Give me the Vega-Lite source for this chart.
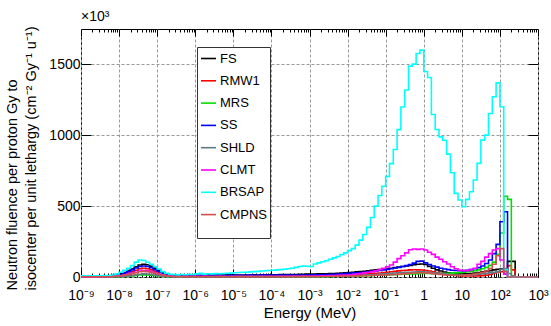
{
  "$schema": "https://vega.github.io/schema/vega-lite/v6.json",
  "width": 457,
  "height": 248,
  "autosize": {"type": "none"},
  "padding": {"left": 81, "top": 29, "right": 13, "bottom": 49},
  "background": "white",
  "config": {
    "font": "Liberation Sans",
    "view": {"stroke": "#000", "strokeWidth": 1}
  },
  "title": {
    "text": "×10³",
    "anchor": "start",
    "frame": "group",
    "fontSize": 14,
    "fontWeight": "normal",
    "font": "Liberation Sans",
    "color": "#000",
    "offset": 2
  },
  "data": {
    "values": [
      {"e":1e-9,"FS":2,"RMW1":1,"MRS":0,"SS":1,"SHLD":1,"CLMT":1,"BRSAP":8,"CMPNS":1},
      {"e":1.259e-9,"FS":2,"RMW1":1,"MRS":0,"SS":1,"SHLD":1,"CLMT":1,"BRSAP":8,"CMPNS":1},
      {"e":1.585e-9,"FS":3,"RMW1":2,"MRS":1,"SS":2,"SHLD":1,"CLMT":1,"BRSAP":9,"CMPNS":1},
      {"e":1.995e-9,"FS":3,"RMW1":2,"MRS":1,"SS":2,"SHLD":1,"CLMT":2,"BRSAP":8,"CMPNS":1},
      {"e":2.512e-9,"FS":4,"RMW1":2,"MRS":1,"SS":3,"SHLD":1,"CLMT":2,"BRSAP":9,"CMPNS":1},
      {"e":3.162e-9,"FS":4,"RMW1":3,"MRS":1,"SS":3,"SHLD":1,"CLMT":2,"BRSAP":9,"CMPNS":1},
      {"e":3.981e-9,"FS":5,"RMW1":3,"MRS":1,"SS":4,"SHLD":1,"CLMT":2,"BRSAP":10,"CMPNS":1},
      {"e":5.012e-9,"FS":7,"RMW1":4,"MRS":1,"SS":5,"SHLD":1,"CLMT":3,"BRSAP":10,"CMPNS":2},
      {"e":6.31e-9,"FS":10,"RMW1":6,"MRS":2,"SS":8,"SHLD":2,"CLMT":5,"BRSAP":14,"CMPNS":4},
      {"e":7.943e-9,"FS":15,"RMW1":9,"MRS":2,"SS":12,"SHLD":3,"CLMT":7,"BRSAP":22,"CMPNS":6},
      {"e":1e-8,"FS":22,"RMW1":14,"MRS":3,"SS":18,"SHLD":4,"CLMT":10,"BRSAP":33,"CMPNS":9},
      {"e":1.259e-8,"FS":32,"RMW1":20,"MRS":4,"SS":27,"SHLD":6,"CLMT":14,"BRSAP":48,"CMPNS":13},
      {"e":1.585e-8,"FS":45,"RMW1":28,"MRS":6,"SS":38,"SHLD":8,"CLMT":20,"BRSAP":62,"CMPNS":18},
      {"e":1.995e-8,"FS":58,"RMW1":38,"MRS":8,"SS":50,"SHLD":11,"CLMT":27,"BRSAP":80,"CMPNS":24},
      {"e":2.512e-8,"FS":72,"RMW1":48,"MRS":11,"SS":63,"SHLD":15,"CLMT":34,"BRSAP":105,"CMPNS":30},
      {"e":3.162e-8,"FS":85,"RMW1":58,"MRS":14,"SS":74,"SHLD":19,"CLMT":42,"BRSAP":120,"CMPNS":37},
      {"e":3.981e-8,"FS":90,"RMW1":62,"MRS":15,"SS":78,"SHLD":22,"CLMT":45,"BRSAP":116,"CMPNS":40},
      {"e":5.012e-8,"FS":86,"RMW1":58,"MRS":14,"SS":74,"SHLD":21,"CLMT":43,"BRSAP":104,"CMPNS":38},
      {"e":6.31e-8,"FS":76,"RMW1":50,"MRS":12,"SS":65,"SHLD":18,"CLMT":38,"BRSAP":90,"CMPNS":33},
      {"e":7.943e-8,"FS":62,"RMW1":40,"MRS":10,"SS":52,"SHLD":14,"CLMT":30,"BRSAP":74,"CMPNS":26},
      {"e":1e-7,"FS":46,"RMW1":30,"MRS":7,"SS":40,"SHLD":10,"CLMT":22,"BRSAP":56,"CMPNS":19},
      {"e":1.259e-7,"FS":30,"RMW1":21,"MRS":5,"SS":27,"SHLD":7,"CLMT":15,"BRSAP":38,"CMPNS":13},
      {"e":1.585e-7,"FS":20,"RMW1":14,"MRS":3,"SS":18,"SHLD":4,"CLMT":10,"BRSAP":26,"CMPNS":8},
      {"e":1.995e-7,"FS":14,"RMW1":9,"MRS":2,"SS":12,"SHLD":3,"CLMT":7,"BRSAP":19,"CMPNS":5},
      {"e":2.512e-7,"FS":12,"RMW1":6,"MRS":1,"SS":10,"SHLD":2,"CLMT":4,"BRSAP":17,"CMPNS":3},
      {"e":3.162e-7,"FS":13,"RMW1":5,"MRS":2,"SS":12,"SHLD":3,"CLMT":4,"BRSAP":15,"CMPNS":3},
      {"e":3.981e-7,"FS":12,"RMW1":6,"MRS":1,"SS":11,"SHLD":2,"CLMT":5,"BRSAP":18,"CMPNS":3},
      {"e":5.012e-7,"FS":11,"RMW1":7,"MRS":2,"SS":10,"SHLD":3,"CLMT":4,"BRSAP":16,"CMPNS":3},
      {"e":6.31e-7,"FS":12,"RMW1":6,"MRS":2,"SS":11,"SHLD":3,"CLMT":4,"BRSAP":19,"CMPNS":3},
      {"e":7.943e-7,"FS":13,"RMW1":5,"MRS":1,"SS":12,"SHLD":2,"CLMT":5,"BRSAP":18,"CMPNS":3},
      {"e":1e-6,"FS":12,"RMW1":6,"MRS":2,"SS":11,"SHLD":3,"CLMT":4,"BRSAP":22,"CMPNS":3},
      {"e":1.259e-6,"FS":11,"RMW1":6,"MRS":1,"SS":10,"SHLD":2,"CLMT":4,"BRSAP":26,"CMPNS":3},
      {"e":1.585e-6,"FS":12,"RMW1":5,"MRS":2,"SS":12,"SHLD":3,"CLMT":5,"BRSAP":20,"CMPNS":3},
      {"e":1.995e-6,"FS":13,"RMW1":6,"MRS":2,"SS":11,"SHLD":3,"CLMT":4,"BRSAP":23,"CMPNS":3},
      {"e":2.512e-6,"FS":12,"RMW1":6,"MRS":1,"SS":11,"SHLD":2,"CLMT":4,"BRSAP":22,"CMPNS":3},
      {"e":3.162e-6,"FS":12,"RMW1":7,"MRS":2,"SS":12,"SHLD":3,"CLMT":4,"BRSAP":24,"CMPNS":3},
      {"e":3.981e-6,"FS":13,"RMW1":6,"MRS":2,"SS":11,"SHLD":3,"CLMT":5,"BRSAP":23,"CMPNS":3},
      {"e":5.012e-6,"FS":12,"RMW1":6,"MRS":1,"SS":12,"SHLD":3,"CLMT":4,"BRSAP":25,"CMPNS":3},
      {"e":6.31e-6,"FS":13,"RMW1":5,"MRS":2,"SS":12,"SHLD":2,"CLMT":4,"BRSAP":26,"CMPNS":3},
      {"e":7.943e-6,"FS":13,"RMW1":6,"MRS":2,"SS":11,"SHLD":3,"CLMT":4,"BRSAP":27,"CMPNS":3},
      {"e":1e-5,"FS":13,"RMW1":6,"MRS":2,"SS":12,"SHLD":3,"CLMT":4,"BRSAP":30,"CMPNS":3},
      {"e":1.259e-5,"FS":14,"RMW1":6,"MRS":1,"SS":12,"SHLD":3,"CLMT":5,"BRSAP":32,"CMPNS":3},
      {"e":1.585e-5,"FS":13,"RMW1":7,"MRS":2,"SS":11,"SHLD":3,"CLMT":4,"BRSAP":33,"CMPNS":3},
      {"e":1.995e-5,"FS":14,"RMW1":6,"MRS":2,"SS":12,"SHLD":3,"CLMT":4,"BRSAP":34,"CMPNS":3},
      {"e":2.512e-5,"FS":14,"RMW1":6,"MRS":2,"SS":13,"SHLD":3,"CLMT":5,"BRSAP":36,"CMPNS":3},
      {"e":3.162e-5,"FS":15,"RMW1":6,"MRS":1,"SS":12,"SHLD":3,"CLMT":4,"BRSAP":38,"CMPNS":3},
      {"e":3.981e-5,"FS":14,"RMW1":7,"MRS":2,"SS":12,"SHLD":3,"CLMT":4,"BRSAP":40,"CMPNS":3},
      {"e":5.012e-5,"FS":15,"RMW1":6,"MRS":2,"SS":13,"SHLD":3,"CLMT":5,"BRSAP":42,"CMPNS":3},
      {"e":6.31e-5,"FS":15,"RMW1":7,"MRS":2,"SS":13,"SHLD":3,"CLMT":4,"BRSAP":44,"CMPNS":3},
      {"e":7.943e-5,"FS":16,"RMW1":7,"MRS":2,"SS":12,"SHLD":3,"CLMT":5,"BRSAP":46,"CMPNS":3},
      {"e":1e-4,"FS":16,"RMW1":7,"MRS":2,"SS":13,"SHLD":3,"CLMT":4,"BRSAP":48,"CMPNS":3},
      {"e":1.259e-4,"FS":16,"RMW1":7,"MRS":2,"SS":13,"SHLD":3,"CLMT":5,"BRSAP":50,"CMPNS":3},
      {"e":1.585e-4,"FS":17,"RMW1":7,"MRS":2,"SS":13,"SHLD":3,"CLMT":5,"BRSAP":52,"CMPNS":3},
      {"e":1.995e-4,"FS":17,"RMW1":8,"MRS":2,"SS":14,"SHLD":3,"CLMT":4,"BRSAP":55,"CMPNS":3},
      {"e":2.512e-4,"FS":17,"RMW1":7,"MRS":2,"SS":13,"SHLD":3,"CLMT":5,"BRSAP":58,"CMPNS":3},
      {"e":3.162e-4,"FS":18,"RMW1":8,"MRS":2,"SS":14,"SHLD":3,"CLMT":5,"BRSAP":62,"CMPNS":3},
      {"e":3.981e-4,"FS":18,"RMW1":8,"MRS":2,"SS":14,"SHLD":3,"CLMT":5,"BRSAP":68,"CMPNS":3},
      {"e":5.012e-4,"FS":19,"RMW1":8,"MRS":2,"SS":14,"SHLD":3,"CLMT":5,"BRSAP":74,"CMPNS":3},
      {"e":6.31e-4,"FS":19,"RMW1":8,"MRS":2,"SS":14,"SHLD":3,"CLMT":5,"BRSAP":78,"CMPNS":3},
      {"e":7.943e-4,"FS":20,"RMW1":8,"MRS":2,"SS":14,"SHLD":3,"CLMT":5,"BRSAP":76,"CMPNS":3},
      {"e":1e-3,"FS":20,"RMW1":8,"MRS":2,"SS":14,"SHLD":3,"CLMT":5,"BRSAP":74,"CMPNS":3},
      {"e":1.259e-3,"FS":21,"RMW1":9,"MRS":2,"SS":15,"SHLD":3,"CLMT":6,"BRSAP":92,"CMPNS":3},
      {"e":1.585e-3,"FS":22,"RMW1":9,"MRS":3,"SS":15,"SHLD":4,"CLMT":7,"BRSAP":100,"CMPNS":4},
      {"e":1.995e-3,"FS":22,"RMW1":10,"MRS":3,"SS":16,"SHLD":4,"CLMT":8,"BRSAP":108,"CMPNS":4},
      {"e":2.512e-3,"FS":23,"RMW1":11,"MRS":3,"SS":17,"SHLD":5,"CLMT":9,"BRSAP":115,"CMPNS":4},
      {"e":3.162e-3,"FS":24,"RMW1":12,"MRS":4,"SS":18,"SHLD":5,"CLMT":10,"BRSAP":125,"CMPNS":5},
      {"e":3.981e-3,"FS":25,"RMW1":13,"MRS":4,"SS":19,"SHLD":6,"CLMT":11,"BRSAP":135,"CMPNS":5},
      {"e":5.012e-3,"FS":26,"RMW1":14,"MRS":5,"SS":20,"SHLD":6,"CLMT":12,"BRSAP":145,"CMPNS":6},
      {"e":6.31e-3,"FS":28,"RMW1":15,"MRS":5,"SS":22,"SHLD":7,"CLMT":13,"BRSAP":158,"CMPNS":6},
      {"e":7.943e-3,"FS":30,"RMW1":16,"MRS":6,"SS":24,"SHLD":8,"CLMT":14,"BRSAP":170,"CMPNS":7},
      {"e":1e-2,"FS":32,"RMW1":17,"MRS":6,"SS":26,"SHLD":9,"CLMT":15,"BRSAP":186,"CMPNS":7},
      {"e":1.259e-2,"FS":34,"RMW1":18,"MRS":7,"SS":28,"SHLD":10,"CLMT":18,"BRSAP":200,"CMPNS":8},
      {"e":1.585e-2,"FS":36,"RMW1":19,"MRS":7,"SS":30,"SHLD":11,"CLMT":21,"BRSAP":225,"CMPNS":8},
      {"e":1.995e-2,"FS":38,"RMW1":20,"MRS":8,"SS":32,"SHLD":12,"CLMT":25,"BRSAP":260,"CMPNS":9},
      {"e":2.512e-2,"FS":41,"RMW1":21,"MRS":9,"SS":34,"SHLD":13,"CLMT":29,"BRSAP":300,"CMPNS":10},
      {"e":3.162e-2,"FS":44,"RMW1":22,"MRS":10,"SS":37,"SHLD":15,"CLMT":33,"BRSAP":350,"CMPNS":11},
      {"e":3.981e-2,"FS":47,"RMW1":24,"MRS":11,"SS":40,"SHLD":16,"CLMT":38,"BRSAP":420,"CMPNS":11},
      {"e":5.012e-2,"FS":50,"RMW1":26,"MRS":12,"SS":43,"SHLD":18,"CLMT":45,"BRSAP":500,"CMPNS":12},
      {"e":6.31e-2,"FS":53,"RMW1":28,"MRS":13,"SS":46,"SHLD":20,"CLMT":52,"BRSAP":575,"CMPNS":13},
      {"e":7.943e-2,"FS":56,"RMW1":31,"MRS":14,"SS":50,"SHLD":22,"CLMT":61,"BRSAP":640,"CMPNS":14},
      {"e":0.1,"FS":59,"RMW1":34,"MRS":15,"SS":54,"SHLD":24,"CLMT":72,"BRSAP":710,"CMPNS":15},
      {"e":0.1259,"FS":62,"RMW1":37,"MRS":16,"SS":58,"SHLD":26,"CLMT":85,"BRSAP":800,"CMPNS":16},
      {"e":0.1585,"FS":66,"RMW1":40,"MRS":17,"SS":63,"SHLD":28,"CLMT":105,"BRSAP":900,"CMPNS":18},
      {"e":0.1995,"FS":70,"RMW1":43,"MRS":18,"SS":68,"SHLD":30,"CLMT":130,"BRSAP":1040,"CMPNS":20},
      {"e":0.2512,"FS":74,"RMW1":46,"MRS":19,"SS":74,"SHLD":32,"CLMT":150,"BRSAP":1200,"CMPNS":22},
      {"e":0.3162,"FS":78,"RMW1":48,"MRS":20,"SS":80,"SHLD":33,"CLMT":170,"BRSAP":1320,"CMPNS":24},
      {"e":0.3981,"FS":82,"RMW1":50,"MRS":21,"SS":88,"SHLD":34,"CLMT":192,"BRSAP":1488,"CMPNS":26},
      {"e":0.5012,"FS":86,"RMW1":51,"MRS":22,"SS":98,"SHLD":35,"CLMT":198,"BRSAP":1502,"CMPNS":28},
      {"e":0.631,"FS":90,"RMW1":50,"MRS":24,"SS":110,"SHLD":36,"CLMT":195,"BRSAP":1577,"CMPNS":30},
      {"e":0.7943,"FS":92,"RMW1":49,"MRS":25,"SS":112,"SHLD":36,"CLMT":198,"BRSAP":1601,"CMPNS":30},
      {"e":1,"FS":88,"RMW1":46,"MRS":25,"SS":100,"SHLD":35,"CLMT":190,"BRSAP":1450,"CMPNS":29},
      {"e":1.259,"FS":75,"RMW1":42,"MRS":25,"SS":88,"SHLD":33,"CLMT":175,"BRSAP":1408,"CMPNS":27},
      {"e":1.585,"FS":62,"RMW1":37,"MRS":24,"SS":78,"SHLD":30,"CLMT":160,"BRSAP":1147,"CMPNS":24},
      {"e":1.995,"FS":50,"RMW1":31,"MRS":24,"SS":70,"SHLD":27,"CLMT":140,"BRSAP":1041,"CMPNS":21},
      {"e":2.512,"FS":42,"RMW1":26,"MRS":24,"SS":62,"SHLD":24,"CLMT":125,"BRSAP":989,"CMPNS":18},
      {"e":3.162,"FS":35,"RMW1":21,"MRS":25,"SS":56,"SHLD":21,"CLMT":108,"BRSAP":965,"CMPNS":15},
      {"e":3.981,"FS":30,"RMW1":17,"MRS":26,"SS":52,"SHLD":18,"CLMT":92,"BRSAP":867,"CMPNS":13},
      {"e":5.012,"FS":26,"RMW1":14,"MRS":27,"SS":48,"SHLD":16,"CLMT":72,"BRSAP":736,"CMPNS":12},
      {"e":6.31,"FS":24,"RMW1":12,"MRS":29,"SS":46,"SHLD":14,"CLMT":58,"BRSAP":590,"CMPNS":11},
      {"e":7.943,"FS":22,"RMW1":10,"MRS":31,"SS":45,"SHLD":13,"CLMT":48,"BRSAP":543,"CMPNS":11},
      {"e":10,"FS":22,"RMW1":8,"MRS":34,"SS":45,"SHLD":13,"CLMT":45,"BRSAP":496,"CMPNS":12},
      {"e":12.59,"FS":23,"RMW1":7,"MRS":37,"SS":47,"SHLD":14,"CLMT":45,"BRSAP":548,"CMPNS":14},
      {"e":15.85,"FS":25,"RMW1":7,"MRS":40,"SS":52,"SHLD":15,"CLMT":52,"BRSAP":602,"CMPNS":17},
      {"e":19.95,"FS":28,"RMW1":7,"MRS":44,"SS":58,"SHLD":17,"CLMT":62,"BRSAP":684,"CMPNS":21},
      {"e":25.12,"FS":32,"RMW1":8,"MRS":50,"SS":66,"SHLD":19,"CLMT":90,"BRSAP":802,"CMPNS":26},
      {"e":31.62,"FS":36,"RMW1":10,"MRS":58,"SS":78,"SHLD":22,"CLMT":110,"BRSAP":966,"CMPNS":33},
      {"e":39.81,"FS":40,"RMW1":12,"MRS":68,"SS":95,"SHLD":25,"CLMT":140,"BRSAP":1001,"CMPNS":42},
      {"e":50.12,"FS":45,"RMW1":18,"MRS":82,"SS":120,"SHLD":29,"CLMT":165,"BRSAP":1154,"CMPNS":60},
      {"e":63.1,"FS":50,"RMW1":28,"MRS":105,"SS":165,"SHLD":34,"CLMT":190,"BRSAP":1272,"CMPNS":90},
      {"e":79.43,"FS":55,"RMW1":35,"MRS":160,"SS":230,"SHLD":40,"CLMT":200,"BRSAP":1370,"CMPNS":150},
      {"e":100,"FS":58,"RMW1":38,"MRS":310,"SS":390,"SHLD":55,"CLMT":120,"BRSAP":1201,"CMPNS":200},
      {"e":125.9,"FS":40,"RMW1":20,"MRS":570,"SS":460,"SHLD":60,"CLMT":20,"BRSAP":50,"CMPNS":40},
      {"e":158.5,"FS":110,"RMW1":80,"MRS":548,"SS":0,"SHLD":25,"CLMT":0,"BRSAP":0,"CMPNS":0},
      {"e":199.5,"FS":110,"RMW1":50,"MRS":3,"SS":0,"SHLD":8,"CLMT":0,"BRSAP":0,"CMPNS":0},
      {"e":251.2,"FS":0,"RMW1":0,"MRS":0,"SS":0,"SHLD":0,"CLMT":0,"BRSAP":0,"CMPNS":0},
      {"e":1000,"FS":0,"RMW1":0,"MRS":0,"SS":0,"SHLD":0,"CLMT":0,"BRSAP":0,"CMPNS":0}
    ]
  },
  "transform": [
    {"fold": ["FS", "RMW1", "MRS", "SS", "SHLD", "CLMT", "BRSAP", "CMPNS"], "as": ["series", "flux"]}
  ],
  "layer": [
    {
      "mark": {"type": "line", "interpolate": "step-after", "strokeWidth": 1.6},
      "encoding": {
        "x": {
          "field": "e",
          "type": "quantitative",
          "scale": {"type": "log", "domain": [1e-9, 1000], "nice": false},
          "axis": {
            "orient": "bottom",
            "title": "Energy (MeV)",
            "titleFont": "Liberation Sans",
            "titleFontSize": 15,
            "titleFontWeight": "normal",
            "titleColor": "#000",
            "titleBaseline": "top",
            "titleY": 28,
            "tickCount": 20,
            "labelOverlap": false,
            "labelFlush": false,
            "labelFont": "Liberation Sans",
            "labelFontSize": 14,
            "labelColor": "#000",
            "labelBaseline": "top",
            "labelPadding": 19,
            "labelExpr": "abs(log(datum.value)/LN10 - round(log(datum.value)/LN10)) > 0.001 ? '' : round(log(datum.value)/LN10) == 0 ? '1' : round(log(datum.value)/LN10) == 1 ? '10' : '10' + (datum.value < 1 ? '⁻' : '') + substring('⁰¹²³⁴⁵⁶⁷⁸⁹', abs(round(log(datum.value)/LN10)), abs(round(log(datum.value)/LN10)) + 1)",
            "domain": false,
            "ticks": true,
            "tickColor": "#000",
            "tickSize": {"condition": {"test": "abs(log(datum.value)/LN10 - round(log(datum.value)/LN10)) < 0.001", "value": -8}, "value": -4},
            "grid": true,
            "gridColor": "#999",
            "gridDash": [3, 2],
            "gridOpacity": {"condition": {"test": "abs(log(datum.value)/LN10 - round(log(datum.value)/LN10)) < 0.001", "value": 1}, "value": 0}
          }
        },
        "y": {
          "field": "flux",
          "type": "quantitative",
          "scale": {"domain": [0, 1750], "nice": false},
          "axis": {
            "orient": "left",
            "values": [0, 500, 1000, 1500],
            "format": "d",
            "title": ["Neutron fluence per proton Gy to", "isocenter per unit lethargy (cm⁻² Gy⁻¹ u⁻¹)"],
            "titleFont": "Liberation Sans",
            "titleFontSize": 14.5,
            "titleFontWeight": "normal",
            "titleColor": "#000",
            "titleAngle": -90,
            "titleAlign": "left",
            "titleBaseline": "top",
            "titleLineHeight": 19,
            "titleX": -76,
            "titleY": 261,
            "labelFont": "Liberation Sans",
            "labelFontSize": 14,
            "labelColor": "#000",
            "labelPadding": 11,
            "domain": false,
            "tickColor": "#000",
            "tickSize": -10,
            "grid": true,
            "gridColor": "#999",
            "gridDash": [3, 2]
          }
        },
        "color": {
          "field": "series",
          "type": "nominal",
          "scale": {
            "domain": ["FS", "RMW1", "MRS", "SS", "SHLD", "CLMT", "BRSAP", "CMPNS"],
            "range": ["#000000", "#ff0000", "#00e000", "#0000ff", "#5f7a87", "#ff00ff", "#00ffff", "#d05050"]
          },
          "legend": {
            "orient": "none",
            "legendX": 116,
            "legendY": 18,
            "title": " ",
            "titleOrient": "bottom",
            "titleFontSize": 8,
            "titlePadding": 5,
            "symbolType": "stroke",
            "symbolSize": 225,
            "symbolStrokeWidth": 1.6,
            "labelFont": "Liberation Sans",
            "labelFontSize": 13,
            "labelColor": "#000",
            "labelOffset": 3,
            "padding": 3,
            "rowPadding": 6.3,
            "strokeColor": "#333",
            "fillColor": "#ffffff"
          }
        }
      }
    },
    {
      "mark": {"type": "line", "opacity": 0},
      "encoding": {
        "x": {
          "field": "e",
          "type": "quantitative",
          "axis": {
            "orient": "top",
            "title": null,
            "labels": false,
            "domain": false,
            "grid": false,
            "tickCount": 20,
            "tickColor": "#000",
            "tickSize": {"condition": {"test": "abs(log(datum.value)/LN10 - round(log(datum.value)/LN10)) < 0.001", "value": -7}, "value": -3}
          }
        },
        "y": {
          "field": "flux",
          "type": "quantitative",
          "axis": {
            "orient": "right",
            "title": null,
            "labels": false,
            "domain": false,
            "grid": false,
            "values": [0, 500, 1000, 1500],
            "tickColor": "#000",
            "tickSize": -10
          }
        },
        "detail": {"field": "series", "type": "nominal"}
      }
    }
  ],
  "resolve": {"axis": {"x": "independent", "y": "independent"}}
}
